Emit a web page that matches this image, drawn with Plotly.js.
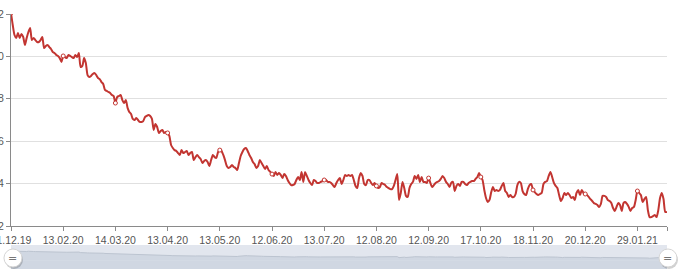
<!DOCTYPE html>
<html>
<head>
<meta charset="utf-8">
<script src="https://cdn.plot.ly/plotly-3.0.1.min.js"></script>
<style>
html,body{margin:0;padding:0;background:#fff;}
#chart{width:680px;height:272px;}
</style>
</head>
<body>
<div id="chart"></div>
<script>
// Daily values (one per category, ticks every 30 categories)
const values = [
12.05,11.48,11.01,10.87,11.10,10.87,11.06,10.92,10.54,10.87,
11.15,11.34,10.77,10.87,10.77,10.68,10.68,10.77,10.92,10.40,
10.49,10.54,10.44,10.35,10.21,10.16,10.07,10.02,9.92,9.74,
10.02,9.97,9.92,10.07,10.02,9.97,9.92,10.07,9.97,10.16,
9.50,9.55,9.92,9.69,9.12,9.03,9.08,9.17,9.22,9.12,
8.98,8.93,8.79,8.70,8.42,8.37,8.32,8.27,8.18,8.13,
7.80,8.08,8.13,8.18,7.94,7.80,7.94,7.57,7.38,7.28,
7.05,7.00,7.09,7.00,6.91,6.91,6.95,7.14,7.19,7.24,
7.19,7.05,6.53,6.81,6.67,6.39,6.48,6.53,6.39,6.43,
6.39,6.25,5.82,5.68,5.58,5.54,5.44,5.35,5.58,5.44,
5.49,5.54,5.35,5.44,5.49,5.11,5.25,5.35,5.25,5.16,
4.97,5.07,5.11,5.02,4.83,5.11,5.35,5.25,5.21,5.49,
5.58,5.54,5.35,5.11,4.83,4.74,4.78,4.88,4.78,4.74,
4.64,4.97,5.30,5.49,5.63,5.68,5.54,5.35,5.21,5.02,
4.92,4.74,4.83,5.11,4.97,4.83,4.69,4.83,4.64,4.55,
4.45,4.36,4.55,4.41,4.50,4.41,4.26,4.45,4.36,4.17,
4.03,3.93,3.93,3.98,4.17,4.31,4.17,4.55,4.08,4.55,
4.36,4.17,4.03,3.93,4.17,4.12,4.03,4.03,4.08,4.12,
4.17,4.17,4.08,4.08,4.03,3.93,3.84,4.03,4.17,4.26,
3.98,4.17,4.41,4.36,4.41,4.36,4.41,4.17,3.89,3.79,
4.26,4.50,4.36,3.98,3.93,4.17,4.17,4.03,3.93,4.03,
3.89,3.79,3.84,4.03,3.98,3.93,3.84,3.79,3.74,3.74,
3.89,4.17,4.45,3.23,3.56,4.08,3.79,3.42,3.37,3.79,
3.98,4.08,4.36,4.22,4.41,4.08,4.31,4.08,4.08,4.03,
4.26,4.03,3.84,3.93,4.03,4.08,4.12,4.22,4.36,4.26,
4.08,3.98,3.84,4.03,4.08,3.65,3.89,3.98,3.89,4.08,
4.08,3.98,3.93,4.03,4.08,4.12,4.12,4.22,4.31,4.50,
4.31,4.17,3.70,3.32,3.13,3.23,3.60,3.84,3.65,3.70,
3.65,3.70,3.89,4.03,3.65,3.56,3.37,3.46,3.37,3.37,
3.51,3.93,4.08,4.03,3.65,3.51,3.46,3.74,3.93,3.98,
3.70,3.60,3.51,3.46,3.51,3.56,3.98,4.08,4.12,4.36,
4.55,4.31,4.03,3.89,3.79,3.46,3.18,3.32,3.56,3.46,
3.56,3.46,3.32,3.37,3.23,3.56,3.70,3.46,3.70,3.56,
3.51,3.46,3.37,3.27,3.18,3.08,3.04,2.99,2.90,3.04,
3.42,3.42,3.37,3.23,3.18,3.08,2.85,2.71,2.90,3.08,
2.99,2.71,3.08,3.13,3.04,2.90,2.71,2.85,2.90,3.23,
3.65,3.56,3.46,3.13,3.27,3.37,2.75,2.42,2.42,2.47,
2.52,2.42,2.75,3.32,3.56,3.27,2.66,2.66
];

const tickLabels = ["01.12.19","13.02.20","14.03.20","13.04.20","13.05.20","12.06.20",
  "13.07.20","12.08.20","12.09.20","17.10.20","18.11.20","20.12.20","29.01.21"];

const yTicks = [2, 4, 6, 8, 10, 12];

const step = 30;
const lastIdx = values.length - 1;
const tickVals = tickLabels.map((_, i) => i * step);
const markerX = tickVals.slice();
const markerY = markerX.map(i => values[i]);

const red = '#c23531';
const axisCol = '#8a8a8a';
const font = {family: 'Liberation Sans, Arial, sans-serif', size: 10.5, color: '#555'};

// paper geometry: margin t=14, b=3 -> paper height 255 (y 14..269)
const mainBottom = (269 - 226) / 255;
const sliderTop = (269 - 245) / 255;
const handleY = (269 - 258) / 255;

const traces = [
  {
    y: values, type: 'scatter', mode: 'lines',
    line: {color: red, width: 2, shape: 'spline', smoothing: 0.6},
    hoverinfo: 'skip', xaxis: 'x', yaxis: 'y'
  },
  {
    x: markerX, y: markerY, type: 'scatter', mode: 'markers',
    marker: {symbol: 'circle', size: 4, color: '#fff', line: {color: red, width: 1}},
    hoverinfo: 'skip', xaxis: 'x', yaxis: 'y'
  },
  {
    y: values, type: 'scatter', mode: 'lines', fill: 'tozeroy',
    fillcolor: '#d0d7e2', line: {color: '#bcc4d0', width: 1},
    hoverinfo: 'skip', xaxis: 'x2', yaxis: 'y2'
  }
];

const handle = (xp) => ([
  {type: 'circle', xref: 'paper', yref: 'paper', xsizemode: 'pixel', ysizemode: 'pixel',
   xanchor: xp, yanchor: handleY, x0: -8, x1: 10, y0: -11, y1: 7,
   fillcolor: 'rgba(0,0,0,0.18)', line: {width: 0}, layer: 'above'},
  {type: 'circle', xref: 'paper', yref: 'paper', xsizemode: 'pixel', ysizemode: 'pixel',
   xanchor: xp, yanchor: handleY, x0: -9, x1: 9, y0: -9, y1: 9,
   fillcolor: '#ffffff', line: {color: '#d5d5d5', width: 1}, layer: 'above'}
]);

const layout = {
  width: 680, height: 272,
  margin: {l: 11, r: 13, t: 14, b: 3},
  paper_bgcolor: '#fff', plot_bgcolor: 'rgba(0,0,0,0)',
  showlegend: false,
  xaxis: {
    domain: [0, 1], range: [0, lastIdx], anchor: 'y',
    tickmode: 'array', tickvals: tickVals.concat([lastIdx]), ticktext: tickLabels.concat(['']),
    showgrid: false, zeroline: false,
    showline: true, linecolor: axisCol, linewidth: 1,
    ticks: 'outside', ticklen: 4, tickcolor: axisCol, tickwidth: 1,
    tickfont: font, fixedrange: true, ticklabeloverflow: 'allow'
  },
  yaxis: {
    domain: [mainBottom, 1], range: [2, 12], anchor: 'x',
    tickmode: 'array', tickvals: yTicks, ticktext: yTicks.map(String),
    showgrid: true, gridcolor: '#e0e0e0', gridwidth: 1, zeroline: false,
    showline: true, linecolor: axisCol, linewidth: 1,
    ticks: 'outside', ticklen: 4, tickcolor: axisCol,
    tickfont: font, fixedrange: true, ticklabeloverflow: 'allow'
  },
  xaxis2: {domain: [0, 1], range: [0, lastIdx], anchor: 'y2', visible: false, fixedrange: true},
  yaxis2: {domain: [0, sliderTop], range: [-11, 19], anchor: 'x2', visible: false, fixedrange: true},
  shapes: [
    {type: 'rect', xref: 'paper', yref: 'paper', x0: 0, x1: 1, y0: 0, y1: sliderTop,
     fillcolor: '#e2e6ee', line: {width: 0}, layer: 'below'},
    {type: 'rect', xref: 'x2', yref: 'y2', x0: 0, x1: lastIdx, y0: -11, y1: 0,
     fillcolor: '#d0d7e2', line: {width: 0}, layer: 'below'}
  ].concat(handle(0.003), handle(1.0015)),
  annotations: [
    {xref: 'paper', yref: 'paper', x: 0.003, y: handleY, text: '=', showarrow: false,
     xanchor: 'center', yanchor: 'middle', font: {family: 'DejaVu Sans', size: 11, color: '#777'}},
    {xref: 'paper', yref: 'paper', x: 1.0015, y: handleY, text: '=', showarrow: false,
     xanchor: 'center', yanchor: 'middle', font: {family: 'DejaVu Sans', size: 11, color: '#777'}}
  ]
};

Plotly.newPlot('chart', traces, layout, {staticPlot: true, displayModeBar: false});
</script>
</body>
</html>
